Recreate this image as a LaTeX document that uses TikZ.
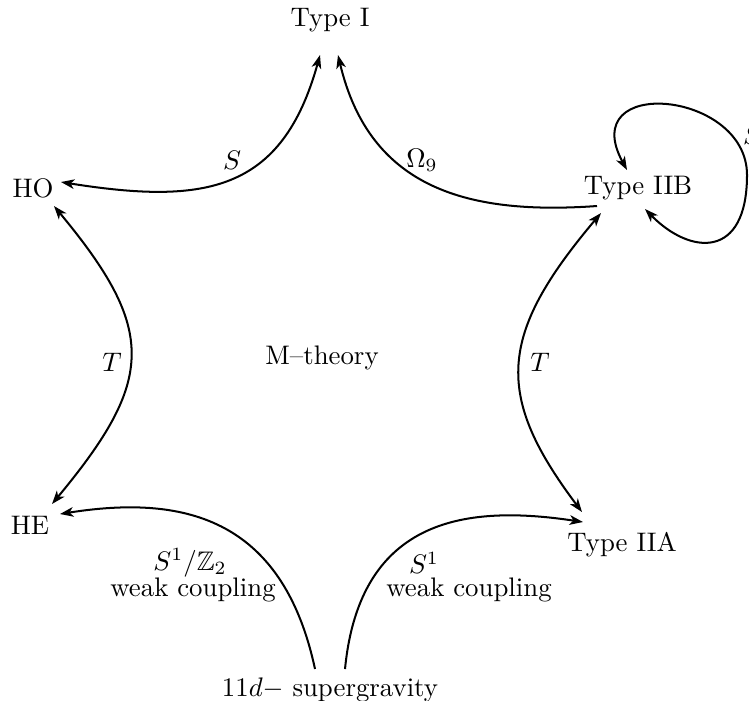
\documentclass[tikz,border=0pt]{standalone}
\usepackage{amssymb}
\usetikzlibrary{arrows.meta}
\begin{document}
\begin{tikzpicture}[x=0.373pt,y=-0.373pt,
  conn/.style={line width=0.75pt},
  >={Stealth[length=5pt,width=3.6pt,inset=1.4pt]},
  lbl/.style={inner sep=0pt}]
\useasboundingbox (0,0) rectangle (749,700);
% nodes
\node (TI)  at (330,20)  {Type I};
\node (HO)  at (33,188)  {HO};
\node (IIB) at (638,188) {Type IIB};
\node (HE)  at (30,525)  {HE};
\node (IIA) at (622,545) {Type IIA};
\node (SG)  at (330,690) {$11d-$ supergravity};
\node (M)   at (322,358) {M--theory};
\coordinate (R) at (747,175);
% connectors
\draw[conn,<->] ([shift={(28,-6)}]HO.center) .. controls (205,205) and (282,192) .. ([shift={(-10,35)}]TI.center);
\draw[conn,->] ([shift={(-41,18)}]IIB.center) .. controls (470,215) and (370,190) .. ([shift={(8,35)}]TI.center);
\draw[conn,<->] ([shift={(21,18)}]HO.center) .. controls (157,330) and (155,380) .. ([shift={(22,-21)}]HE.center);
\draw[conn,<->] ([shift={(-37,25)}]IIB.center) .. controls (498,335) and (494,395) .. ([shift={(-40,-33)}]IIA.center);
\draw[conn,->] ([shift={(-15,-21)}]SG.center) .. controls (282,515) and (180,495) .. ([shift={(30,-11)}]HE.center);
\draw[conn,->] ([shift={(15,-21)}]SG.center) .. controls (360,515) and (470,505) .. ([shift={(-39,-23)}]IIA.center);
\draw[conn,<->] ([shift={(-11,-18)}]IIB.center) .. controls (575,75) and (747,90) .. (R)
                       .. controls (747,260) and (690,255) .. ([shift={(7,21)}]IIB.center);
% labels
\node[lbl] (lS)   at (232,160) {$S$};
\node[lbl] (lO)   at (422,160) {$\Omega_9$};
\node[lbl] (lSB)  at (752,135) {$S$};
\node[lbl] (lTL)  at (112,362) {$T$};
\node[lbl] (lTR)  at (540,362) {$T$};
\node[lbl] (lZ)   at (190,563) {$S^1/\mathbb{Z}_2$};
\node[lbl] (lWL)  at (193,590) {weak coupling};
\node[lbl] (lS1)  at (424,563) {$S^1$};
\node[lbl] (lWR)  at (469,590) {weak coupling};
\end{tikzpicture}
\end{document}
